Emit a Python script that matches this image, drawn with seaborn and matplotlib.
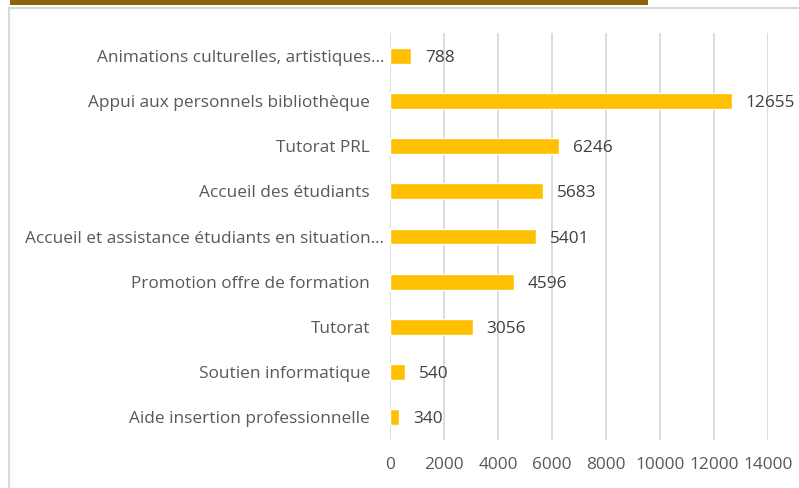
import matplotlib
matplotlib.use("Agg")
import matplotlib.pyplot as plt
import matplotlib.transforms as mtransforms
from matplotlib.patches import Rectangle
import seaborn as sns
import pandas as pd

# ─── Data ─────────────────────────────────────────────
categories = [
    "Animations culturelles, artistiques…",
    "Appui aux personnels bibliothèque",
    "Tutorat PRL",
    "Accueil des étudiants",
    "Accueil et assistance étudiants en situation…",
    "Promotion offre de formation",
    "Tutorat",
    "Soutien informatique",
    "Aide insertion professionnelle",
]
values = [788, 12655, 6246, 5683, 5401, 4596, 3056, 540, 340]
x_ticks = [0, 2000, 4000, 6000, 8000, 10000, 12000, 14000]

BAR_COLOR = "#FFC000"
GRID_COLOR = "#D9D9D9"
TICK_COLOR = "#595959"
LABEL_COLOR = "#404040"
FS = 12.4

df = pd.DataFrame({"categorie": categories, "valeur": values})

sns.set_theme(style="white")
plt.rcParams["font.family"] = ["Open Sans", "DejaVu Sans"]

fig = plt.figure(figsize=(7.99, 4.88), dpi=100)
ax = fig.add_axes([390 / 799, 1 - 440 / 488, (768 - 390) / 799, (440 - 33) / 488])

sns.barplot(data=df, x="valeur", y="categorie", color=BAR_COLOR,
            width=0.35, saturation=1, ax=ax)

ax.set_xlim(0, 14000)
ax.set_xticks(x_ticks)
ax.set_xticklabels([str(t) for t in x_ticks])
ax.set_xlabel("")
ax.set_ylabel("")
ax.xaxis.grid(True, color=GRID_COLOR, linewidth=1.3)
ax.set_axisbelow(True)
for s in ax.spines.values():
    s.set_visible(False)

ax.tick_params(axis="y", length=0, pad=14.4, labelsize=FS, labelcolor=TICK_COLOR)
ax.tick_params(axis="x", length=0, pad=12, labelsize=FS, labelcolor=TICK_COLOR)

# truncated labels sit closer to the axis
for lbl in ax.get_yticklabels():
    if lbl.get_text().endswith("…"):
        lbl.set_transform(lbl.get_transform() +
                          mtransforms.ScaledTranslation(14 / 100, 0, fig.dpi_scale_trans))

for cont in ax.containers:
    texts = ax.bar_label(cont, labels=[str(v) for v in values], padding=10,
                         fontsize=FS, color=LABEL_COLOR)
    for t in texts:
        t.set_va("center_baseline")

# chart frame and header band
fig.patches.append(Rectangle((9 / 799, -0.1), 1.2, 1.1 - 8 / 488, transform=fig.transFigure,
                             fill=False, edgecolor=GRID_COLOR, linewidth=1.5))
fig.patches.append(Rectangle((10 / 799, 1 - 5 / 488), (648 - 10) / 799, 5 / 488,
                             transform=fig.transFigure, facecolor="#8B6508", edgecolor="none"))

fig.savefig("out.png", dpi=100)
